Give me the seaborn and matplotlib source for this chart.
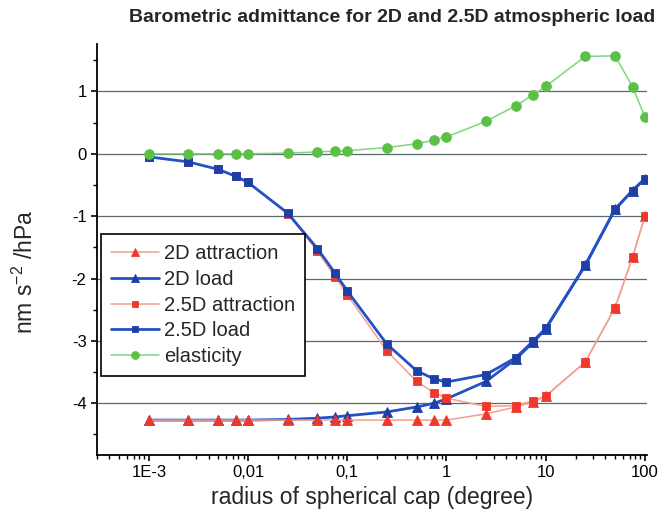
import numpy as np
import pandas as pd
import matplotlib
matplotlib.use("Agg")
import matplotlib.pyplot as plt
import matplotlib.ticker as mticker
import seaborn as sns

# ---- data ----
radius = [0.001, 0.0025, 0.005, 0.0075, 0.01, 0.025, 0.05, 0.075, 0.1, 0.25, 0.5,
          0.75, 1, 2.5, 5, 7.5, 10, 25, 50, 75, 100]
att_2d = [-4.27, -4.27, -4.27, -4.27, -4.27, -4.27, -4.27, -4.27, -4.27, -4.27, -4.27,
          -4.27, -4.27, -4.17, -4.06, -3.98, -3.89, -3.34, -2.47, -1.66, -1.00]
load_2d = [-4.27, -4.27, -4.27, -4.27, -4.27, -4.26, -4.24, -4.22, -4.20, -4.14, -4.06,
           -4.00, -3.93, -3.65, -3.29, -3.02, -2.81, -1.79, -0.89, -0.59, -0.40]
att_25d = [-0.05, -0.13, -0.25, -0.36, -0.46, -0.96, -1.56, -1.97, -2.26, -3.16, -3.65,
           -3.83, -3.92, -4.05, -4.04, -3.96, -3.88, -3.34, -2.47, -1.66, -1.00]
load_25d = [-0.05, -0.13, -0.25, -0.36, -0.46, -0.95, -1.52, -1.91, -2.20, -3.05, -3.48,
            -3.61, -3.66, -3.54, -3.27, -3.00, -2.80, -1.79, -0.89, -0.59, -0.40]
elasticity = [0.0, 0.0, 0.0, 0.0, 0.0, 0.01, 0.03, 0.04, 0.05, 0.10, 0.16,
              0.22, 0.27, 0.52, 0.77, 0.95, 1.08, 1.56, 1.57, 1.075, 0.59]

x_ticks = [0.001, 0.01, 0.1, 1, 10, 100]
x_tick_labels = ["1E-3", "0,01", "0,1", "1", "10", "100"]
y_ticks = [-4, -3, -2, -1, 0, 1]

title = "Barometric admittance for 2D and 2.5D atmospheric load"
xlabel = "radius of spherical cap (degree)"
ylabel = "nm s$^{\\mathregular{-2}}$ /hPa"

# ---- style ----
sns.set_style("ticks")
plt.rcParams["font.family"] = ["Liberation Sans", "DejaVu Sans"]
plt.rcParams["axes.unicode_minus"] = False
plt.rcParams["mathtext.default"] = "regular"

fig = plt.figure(figsize=(6.58, 5.12), dpi=100)
ax = fig.add_axes([97 / 658, 1 - 455 / 512, 550 / 658, 411 / 512])

red_line = "#f2a090"
red_mk = "#f0382a"
blue_line = "#2452c4"
blue_mk = "#1d3fa6"
green_line = "#7fd67f"
green_mk = "#5cc046"

series = [
    ("2D load", load_2d, blue_line, blue_mk, "^", 2.0, 7.5, 3),
    ("2D attraction", att_2d, red_line, red_mk, "^", 1.1, 7.5, 4),
    ("2.5D attraction", att_25d, red_line, red_mk, "s", 1.1, 5.5, 5),
    ("2.5D load", load_25d, blue_line, blue_mk, "s", 2.0, 5.5, 6),
    ("elasticity", elasticity, green_line, green_mk, "o", 1.1, 7.0, 7),
]

for name, vals, lc, mc, mk, lw, ms, z in series:
    df = pd.DataFrame({"radius": radius, "value": vals})
    sns.lineplot(data=df, x="radius", y="value", ax=ax, color=lc, linewidth=lw,
                 marker=mk, markersize=ms, markerfacecolor=mc, markeredgecolor=mc,
                 markeredgewidth=0.6, label=name, zorder=z)

ax.set_xscale("log")
ax.set_xlim(3e-4, 105)
ax.set_ylim(-4.83, 1.76)

ax.xaxis.set_major_locator(mticker.FixedLocator(x_ticks))
ax.xaxis.set_major_formatter(mticker.FixedFormatter(x_tick_labels))
ax.xaxis.set_minor_locator(mticker.LogLocator(base=10, subs=np.arange(2, 10) * 1.0,
                                              numticks=100))
ax.xaxis.set_minor_formatter(mticker.NullFormatter())
ax.yaxis.set_major_locator(mticker.FixedLocator(y_ticks))
ax.yaxis.set_major_formatter(mticker.FuncFormatter(lambda v, p: "%d" % v))
ax.yaxis.set_minor_locator(mticker.MultipleLocator(0.5))

for s in ["top", "right"]:
    ax.spines[s].set_visible(False)
for s in ["left", "bottom"]:
    ax.spines[s].set_linewidth(1.3)
    ax.spines[s].set_color("black")

ax.tick_params(axis="both", which="both", bottom=True, left=True, top=False, right=False)
ax.tick_params(axis="both", which="major", direction="out", length=4.5, width=1.2,
               labelsize=12, colors="black", pad=3)
ax.tick_params(axis="both", which="minor", direction="out", length=3, width=1.0,
               colors="black")

ax.grid(False)
for yv in y_ticks:
    ax.axhline(yv, color="#5b6b6b", linewidth=0.9, zorder=1)

ax.set_xlabel(xlabel, fontsize=16.5, labelpad=4)
ax.set_ylabel(ylabel, fontsize=16.5)
ax.yaxis.set_label_coords(-0.107, 0.445)

handles, labels = ax.get_legend_handles_labels()
order = ["2D attraction", "2D load", "2.5D attraction", "2.5D load", "elasticity"]
hmap = dict(zip(labels, handles))
leg = ax.legend([hmap[k] for k in order], order, loc="upper left",
                bbox_to_anchor=(0.007, 0.538), borderaxespad=0, fontsize=14.5,
                frameon=True, fancybox=False, edgecolor="black", framealpha=1,
                handlelength=2.4, handletextpad=0.25, labelspacing=0.34,
                borderpad=0.5, markerscale=0.8)
leg.get_frame().set_linewidth(1.2)
leg.set_zorder(10)

fig.text(655 / 658, 1 - 18 / 512, title, ha="right", va="center",
         fontsize=14, fontweight="bold")

fig.savefig("out.png", dpi=100)
